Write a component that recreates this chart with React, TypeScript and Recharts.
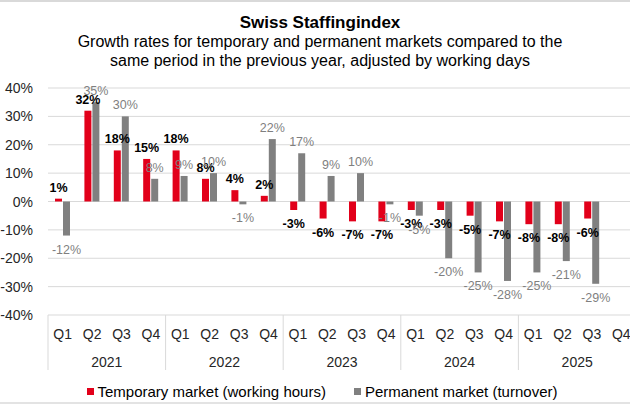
import React from 'react';
import { BarChart, Bar, XAxis, YAxis, CartesianGrid, LabelList } from 'recharts';

const quarters = ['Q1', 'Q2', 'Q3', 'Q4', 'Q1', 'Q2', 'Q3', 'Q4', 'Q1', 'Q2', 'Q3', 'Q4', 'Q1', 'Q2', 'Q3', 'Q4', 'Q1', 'Q2', 'Q3', 'Q4'];
const years = ['2021', '2022', '2023', '2024', '2025'];
const temporary = [1, 32, 18, 15, 18, 8, 4, 2, -3, -6, -7, -7, -3, -3, -5, -7, -8, -8, -6, null];
const permanent = [-12, 35, 30, 8, 9, 10, -1, 22, 17, 9, 10, -1, -5, -20, -25, -28, -25, -21, -29, null];
const yTicks = [-40, -30, -20, -10, 0, 10, 20, 30, 40];

const RED = '#e2001a';
const GRAY = '#808080';

const CHART_W = 640;
const PLOT_LEFT = 48;
const PLOT_RIGHT_MARGIN = 4;
const BAND = (CHART_W - PLOT_LEFT - PLOT_RIGHT_MARGIN) / quarters.length;

const data = quarters.map((q, i) => ({
  q,
  year: years[Math.floor(i / 4)],
  temporary: temporary[i],
  permanent: permanent[i],
}));

const font = '"Liberation Sans", Arial, sans-serif';

const makeLabel = (color: string, bold: boolean) => (props: any) => {
  const { x, y, width, height, value } = props;
  if (value === null || value === undefined) return null;
  const top = Math.min(y, y + height);
  const bottom = Math.max(y, y + height);
  const cy = value >= 0 ? top - 11 : bottom + 14;
  return (
    <text
      x={x + width / 2}
      y={cy}
      textAnchor="middle"
      dominantBaseline="central"
      fontSize={12.5}
      fontWeight={bold ? 'bold' : 'normal'}
      fill={color}
      fontFamily={font}
    >
      {`${value}%`}
    </text>
  );
};

const YTick = (props: any) => {
  const { y, payload } = props;
  return (
    <text x={33} y={y} textAnchor="end" dominantBaseline="central" fontSize={14} fill="#262626" fontFamily={font}>
      {`${payload.value}%`}
    </text>
  );
};

const XTick = (props: any) => {
  const { x, index, payload } = props;
  const left = x - BAND / 2;
  return (
    <g>
      <text x={x} y={334} textAnchor="middle" dominantBaseline="central" fontSize={14} fill="#262626" fontFamily={font}>
        {payload.value}
      </text>
      {index % 4 === 0 && (
        <>
          <line x1={left} x2={left} y1={315} y2={370} stroke="#d9d9d9" strokeWidth={1} />
          <text x={left + BAND * 2} y={362} textAnchor="middle" dominantBaseline="central" fontSize={14} fill="#262626" fontFamily={font}>
            {years[index / 4]}
          </text>
        </>
      )}
      {index === quarters.length - 1 && (
        <line x1={x + BAND / 2} x2={x + BAND / 2} y1={315} y2={370} stroke="#d9d9d9" strokeWidth={1} />
      )}
    </g>
  );
};

const LegendItem = ({ color, label }: { color: string; label: string }) => (
  <span style={{ display: 'inline-flex', alignItems: 'center', margin: '0 14px' }}>
    <span style={{ width: 7, height: 7, background: color, marginRight: 4, display: 'inline-block' }} />
    <span>{label}</span>
  </span>
);

export default function App() {
  return (
    <div style={{ position: 'absolute', left: 0, top: 0, width: 630, height: 412, overflow: 'hidden', background: '#fff', fontFamily: font, color: '#000' }}>
      <div style={{ position: 'absolute', left: 0, right: 0, top: 0, height: 2, background: '#d9d9d9' }} />
      <div style={{ position: 'absolute', left: 0, right: 0, top: 402, height: 2, background: '#e3e3e3' }} />
      <div style={{ position: 'absolute', left: 0, width: 640, top: 13, textAlign: 'center', fontSize: 17, fontWeight: 'bold', lineHeight: '20px' }}>
        Swiss Staffingindex
      </div>
      <div style={{ position: 'absolute', left: 0, width: 640, top: 33, textAlign: 'center', fontSize: 16, lineHeight: '18.5px' }}>
        Growth rates for temporary and permanent markets compared to the
        <br />
        same period in the previous year, adjusted by working days
      </div>
      <div style={{ position: 'absolute', left: 0, top: 0 }}>
        <BarChart
          width={CHART_W}
          height={412}
          data={data}
          margin={{ top: 88, right: PLOT_RIGHT_MARGIN, bottom: 0, left: 0 }}
          barSize={7}
          barGap={1}
        >
          <CartesianGrid vertical={false} stroke="#d9d9d9" />
          <XAxis dataKey="q" interval={0} height={97} axisLine={false} tickLine={false} tick={<XTick />} />
          <YAxis
            width={PLOT_LEFT}
            domain={[-40, 40]}
            ticks={yTicks}
            axisLine={false}
            tickLine={false}
            tick={<YTick />}
          />
          <Bar dataKey="temporary" fill={RED} isAnimationActive={false}>
            <LabelList dataKey="temporary" content={makeLabel('#000', true)} />
          </Bar>
          <Bar dataKey="permanent" fill={GRAY} isAnimationActive={false}>
            <LabelList dataKey="permanent" content={makeLabel('#7f7f7f', false)} />
          </Bar>
        </BarChart>
      </div>
      <div style={{ position: 'absolute', left: 0, width: 644, top: 380, textAlign: 'center', fontSize: 15, lineHeight: '20px' }}>
        <LegendItem color={RED} label="Temporary market (working hours)" />
        <LegendItem color={GRAY} label="Permanent market (turnover)" />
      </div>
    </div>
  );
}
